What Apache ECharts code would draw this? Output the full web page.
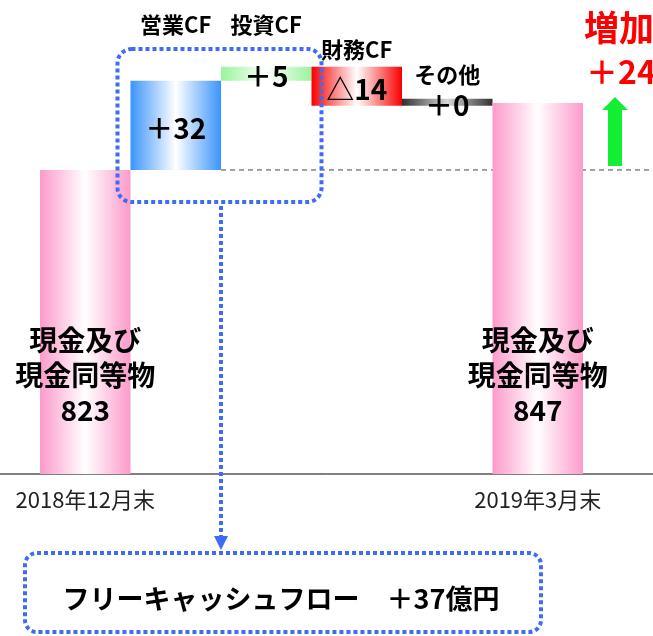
<!DOCTYPE html>
<html>
<head>
<meta charset="utf-8">
<script src="https://cdn.jsdelivr.net/npm/echarts@6/dist/echarts.min.js"></script>
<style>
html, body { margin: 0; padding: 0; background: #fff; }
#main { width: 653px; height: 636px; }
</style>
</head>
<body>
<div id="main"></div>
<script>
// キャッシュフロー（億円）
const categories = ['2018年12月末', '営業CF', '投資CF', '財務CF', 'その他', '2019年3月末'];
const startCash = 823;
const endCash = 847;
const flows = [32, 5, -14, 0];
const yMin = 714;
const yMax = 880;

const font = '"Noto Sans CJK JP", sans-serif';
const blue = '#3e6cf4';

// 滝グラフ用：透明な土台 + 見える棒
const base = [0];
const bars = [startCash];
let running = startCash;
flows.forEach(v => {
  base.push(v < 0 ? running + v : running);
  bars.push(Math.abs(v));
  running += v;
});
base.push(0);
bars.push(endCash);

function hGrad(edge, mid) {
  return new echarts.graphic.LinearGradient(0, 0, 1, 0, [
    {offset: 0, color: edge}, {offset: 0.5, color: mid}, {offset: 1, color: edge}
  ]);
}
const fills = [
  hGrad('#fc9acb', '#fff'),
  hGrad('#3b94fb', '#fff'),
  hGrad('#98f59a', '#fff'),
  hGrad('#f80000', '#fff'),
  hGrad('#303030', '#d8d8d8'),
  hGrad('#fc9acb', '#fff')
];

const last = categories.length - 1;
const barData = bars.map((v, i) => {
  const isCash = i === 0 || i === last;
  const f = flows[i - 1];
  return {
    value: v,
    itemStyle: {color: fills[i]},
    label: isCash ? {
      formatter: '現金及び\n現金同等物\n' + v,
      position: 'insideBottom', distance: 46, fontSize: 28, lineHeight: 35
    } : {
      formatter: (f < 0 ? '△' : '＋') + Math.abs(f),
      position: 'inside', fontSize: 28, offset: [0, 3]
    }
  };
});

const chart = echarts.init(document.getElementById('main'));
chart.setOption({
  animation: false,
  textStyle: {fontFamily: font},
  grid: {left: 40, right: 70, top: 11, bottom: 162},
  xAxis: {
    type: 'category',
    data: categories,
    axisLine: {show: false},
    axisTick: {show: false},
    axisLabel: {
      interval: (i) => i === 0 || i === last,
      color: '#222',
      fontSize: 22,
      margin: 15
    }
  },
  yAxis: {
    type: 'value',
    min: yMin,
    max: yMax,
    show: false,
    splitLine: {show: false}
  },
  series: [{
    type: 'bar',
    stack: 'cf',
    data: base,
    silent: true,
    itemStyle: {color: 'transparent'},
    barCategoryGap: 0
  }, {
    type: 'bar',
    stack: 'cf',
    data: barData,
    barMinHeight: 7,
    barCategoryGap: 0,
    label: {show: true, color: '#000', fontWeight: 'bold', fontFamily: font, textBorderWidth: 0}
  }]
});

// 注釈（枠・矢印・文字）
const p = (i, v) => chart.convertToPixel({gridIndex: 0}, [i, v]);
const band = p(1, yMin)[0] - p(0, yMin)[0];
const yBase = p(0, yMin)[1];
const W = chart.getWidth();
const yStart = p(0, startCash)[1];
const yEnd = p(last, endCash)[1];
const opLeft = p(1, yMin)[0] - band / 2;
const invRight = p(2, yMin)[0] + band / 2;
const splitX = p(1, yMin)[0] + band / 2;
const arrowX = p(last, yMin)[0] + band / 2 + 32;
const fcf = flows[0] + flows[1];
const diff = endCash - startCash;
const topLabelY = {1: 25, 2: 25, 3: 50, 4: 75};
const dotted = {fill: 'none', stroke: blue, lineWidth: 4, lineDash: [4, 3]};

const graphics = [
  {type: 'line', z: 1, shape: {x1: 0, y1: yBase, x2: W, y2: yBase}, style: {stroke: '#000', lineWidth: 1}},
  {type: 'line', z: 1, shape: {x1: p(2, yMin)[0] - band / 2, y1: yStart, x2: W, y2: yStart},
    style: {stroke: '#444', lineWidth: 1, lineDash: [5, 4]}},
  {type: 'rect', z: 10, shape: {x: opLeft - 13, y: 49, width: invRight - opLeft + 23, height: 153, r: 14}, style: dotted},
  {type: 'line', z: 10, shape: {x1: splitX, y1: 206, x2: splitX, y2: 536}, style: {stroke: blue, lineWidth: 4, lineDash: [4, 3]}},
  {type: 'polygon', z: 10, shape: {points: [[splitX - 7, 536], [splitX + 7, 536], [splitX, 550]]}, style: {fill: blue}},
  {type: 'rect', z: 10, shape: {x: 25, y: 553, width: 516, height: 79, r: 12}, style: dotted},
  {type: 'text', z: 11, style: {
    text: 'フリーキャッシュフロー　＋' + fcf + '億円', x: 281, y: 599,
    align: 'center', verticalAlign: 'middle', fill: '#000', font: 'bold 27px ' + font}},
  {type: 'polygon', z: 10, shape: {points: [
    [arrowX - 7, yStart - 4], [arrowX + 7, yStart - 4], [arrowX + 7, yEnd + 7],
    [arrowX + 13, yEnd + 7], [arrowX, yEnd - 6], [arrowX - 13, yEnd + 7], [arrowX - 7, yEnd + 7]
  ]}, style: {fill: '#11ee33'}},
  {type: 'text', z: 11, style: {text: '増加', x: 584, y: 28, align: 'left', verticalAlign: 'middle',
    fill: '#ff0000', font: 'bold 35px ' + font}},
  {type: 'text', z: 11, style: {text: '＋' + diff, x: 586, y: 72, align: 'left', verticalAlign: 'middle',
    fill: '#ff0000', font: 'bold 32px ' + font}}
];
Object.keys(topLabelY).forEach(i => {
  graphics.push({type: 'text', z: 11, style: {
    text: categories[i], x: p(+i, yMin)[0], y: topLabelY[i],
    align: 'center', verticalAlign: 'middle', fill: '#000', font: 'bold 22px ' + font}});
});
chart.setOption({graphic: graphics});
</script>
</body>
</html>
